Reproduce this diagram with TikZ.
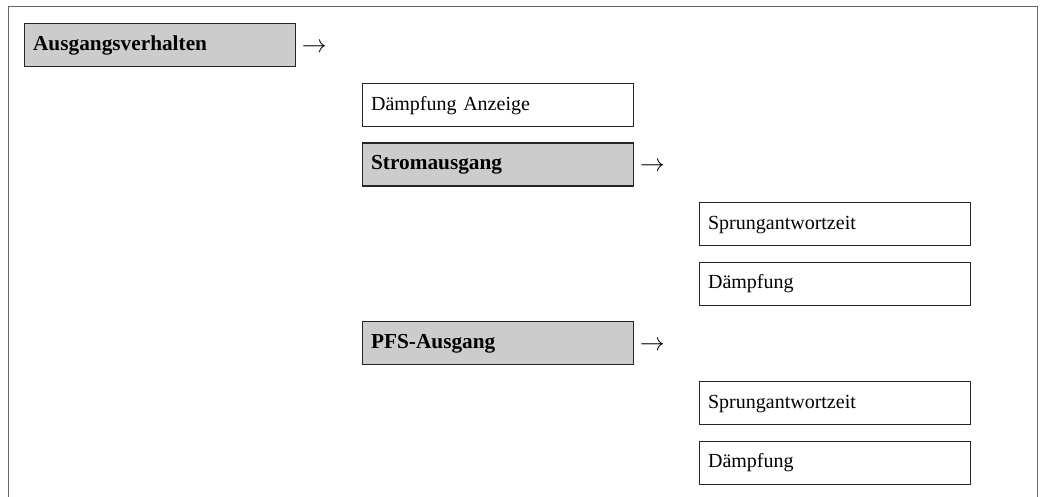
\documentclass[tikz,border=0pt]{standalone}
\usepackage{fontspec}
\setmainfont{Liberation Serif}
\begin{document}
\begin{tikzpicture}[x=1pt,y=-1pt,
  box/.style={draw=black!85, line width=1.2pt, anchor=north west, minimum height=43pt,
    text width=254pt, align=left, inner xsep=8.5pt, inner ysep=0pt,
    text height=14pt, text depth=4pt,
    font=\fontsize{20}{23}\selectfont},
  menubox/.style={box, fill=black!20, font=\fontsize{21.3}{24}\selectfont\bfseries},
  itembox/.style={box, fill=white},
  arr/.style={inner sep=0pt, font=\fontsize{25}{28}\selectfont}
]
\useasboundingbox (0,0) rectangle (1043,497);
\draw[line width=1.8pt, black!60] (8.5,497) -- (8.5,6.5) -- (1037.5,6.5) -- (1037.5,497);

\node[menubox] (av) at (24,23) {Ausgangsverhalten};
\node[arr] (avarr) at ([xshift=18pt,yshift=-3pt]av.east) {$\rightarrow$};

\node[itembox] (da) at (362,83) {Dämpfung Anzeige};
\node[menubox] (sa) at (362,142.5) {Stromausgang};
\node[arr] (saarr) at ([xshift=18pt,yshift=-2pt]sa.east) {$\rightarrow$};

\node[itembox] (sp1) at (699,202) {Sprungantwortzeit};
\node[itembox] (d1) at (699,261.5) {Dämpfung};

\node[menubox] (pfs) at (362,321) {PFS-Ausgang};
\node[arr] (pfsarr) at ([xshift=18pt,yshift=-3pt]pfs.east) {$\rightarrow$};

\node[itembox] (sp2) at (699,381) {Sprungantwortzeit};
\node[itembox] (d2) at (699,440.5) {Dämpfung};
\end{tikzpicture}
\end{document}
